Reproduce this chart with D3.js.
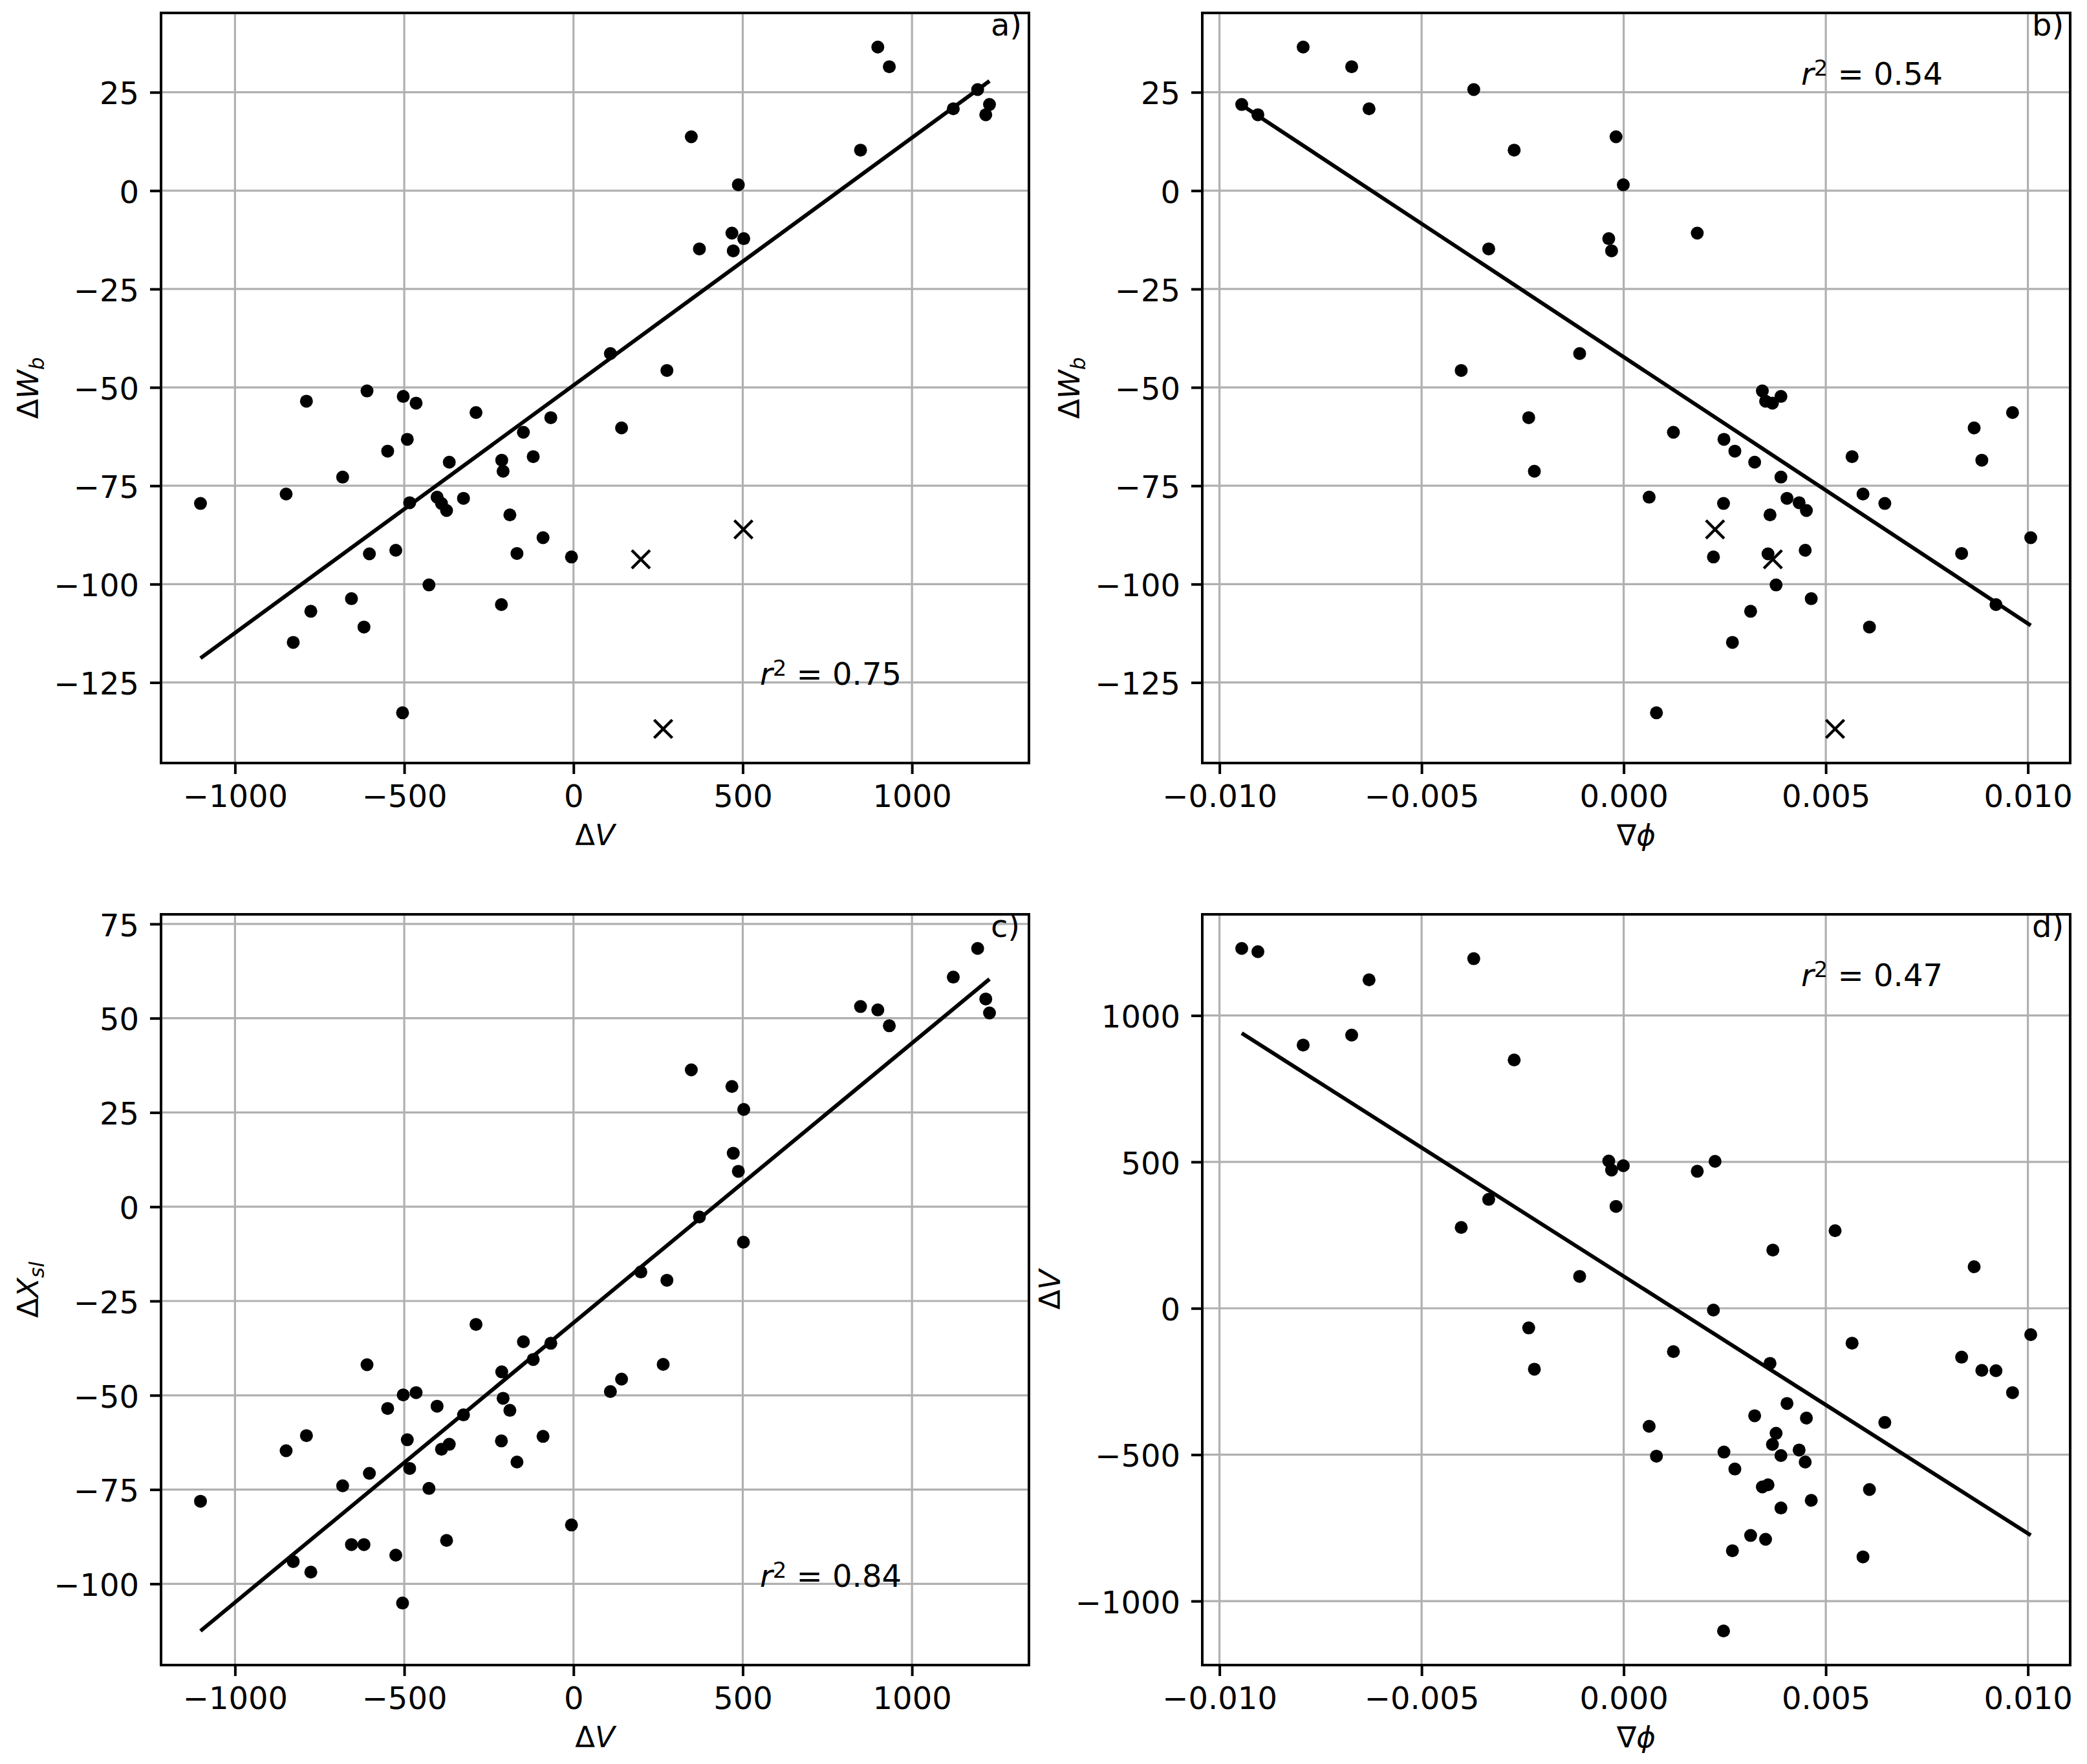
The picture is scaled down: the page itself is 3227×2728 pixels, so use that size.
<!DOCTYPE html>
<html>
<head>
<meta charset="utf-8">
<script src="https://cdn.jsdelivr.net/npm/d3@7"></script>
<style>
  html, body { margin: 0; padding: 0; background: #fff; }
  svg text { font-family: "DejaVu Sans", sans-serif; fill: #000; }
</style>
</head>
<body>
<svg id="fig" width="3227" height="2728"></svg>
<script>
// -------- Data (one entry per event, same order in every array) --------
const dV = [-1102, -849, -789, -828, -776, -682, -656, -619, -610, -603, -549, -525, -505, -503, -491, -484, -465, -427, -403, -390,
  -375, -367, -325, -288, -213, -212, -208, -188, -167, -148, -119, -90, -67, -6, 109, 142, 276, 348, 372, 468,
  472, 487, 503, 848, 899, 933, 1122, 1194, 1229, 1218];
const dWb = [-79.5, -77.1, -53.5, -114.8, -106.9, -72.8, -103.7, -110.9, -50.9, -92.3, -66.2, -91.4, -132.7, -52.3, -63.2, -79.3, -54.0, -100.2, -77.9, -79.5,
  -81.3, -69.0, -78.2, -56.4, -105.2, -68.5, -71.3, -82.4, -92.2, -61.4, -67.6, -88.2, -57.7, -93.1, -41.4, -60.3, -45.7, 13.7, -14.8, -10.8,
  -15.3, 1.5, -12.2, 10.3, 36.5, 31.5, 20.8, 25.7, 21.9, 19.3];
const gradPhi = [0.00247, 0.00592, 0.00351, 0.00269, 0.00314, 0.00389, 0.00464, 0.00608, 0.00343, 0.00357, 0.00275, 0.00449, 0.00081, 0.00389, 0.00248, 0.00434, 0.00368, 0.00377, 0.00063, 0.00646,
  0.00452, 0.00324, 0.00404, 0.00962, 0.00921, 0.00886, -0.00221, 0.00362, 0.00836, 0.00123, 0.00565, 0.01007, -0.00235, 0.00222, -0.00109, 0.00867, -0.00402, -0.00019, -0.00334, 0.00182,
  -0.00030, -0.00001, -0.00037, -0.00271, -0.00793, -0.00673, -0.00630, -0.00371, -0.00945, -0.00905];
const dXsl = [-78.1, -64.7, -60.7, -94.1, -96.9, -74.0, -89.6, -89.6, -41.9, -70.7, -53.5, -92.4, -105.1, -49.9, -61.8, -69.4, -49.3, -74.7, -52.9, -64.3,
  -88.5, -63.0, -55.2, -31.2, -62.1, -43.8, -50.8, -54.0, -67.7, -35.8, -40.5, -60.9, -36.2, -84.4, -49.0, -45.7, -19.5, 36.3, -2.7, 31.9,
  14.2, 9.4, 25.8, 53.1, 52.2, 48.0, 60.9, 68.5, 51.4, 55.1];

// events left out of the W_b fits (crosses in a and b)
const outDV = [199, 502, 265];
const outDWb = [-93.7, -86.1, -136.8];
const outPhi = [0.00369, 0.00226, 0.00523];
const outDXsl = [-17.3, -9.4, -41.8];

// ticks and annotations
const dvTicks = [-1000, -500, 0, 500, 1000];
const phiTicks = [-0.01, -0.005, 0, 0.005, 0.01];
const wbTicks = [-125, -100, -75, -50, -25, 0, 25];
const xslTicks = [-100, -75, -50, -25, 0, 25, 50, 75];
const r2Labels = ["0.75", "0.54", "0.84", "0.47"];
const panelTags = ["a)", "b)", "c)", "d)"];

// -------- Figure setup --------
const svg = d3.select("#fig");
svg.append("rect").attr("width", 3227).attr("height", 2728).attr("fill", "#fff");

const TICK_FONT = 48;
const LABEL_FONT = 45;
const TICK_LEN = 17;

// matplotlib-style autoscale: 5% margin on each side
function pad(ext) {
  const r = ext[1] - ext[0];
  return [ext[0] - 0.05 * r, ext[1] + 0.05 * r];
}

// ordinary least squares y = a + b x
function fit(xs, ys) {
  const mx = d3.mean(xs), my = d3.mean(ys);
  let sxy = 0, sxx = 0;
  xs.forEach((x, i) => { sxy += (x - mx) * (ys[i] - my); sxx += (x - mx) * (x - mx); });
  const b = sxy / sxx;
  return { a: my - b * mx, b };
}

// label pieces: [text, italic, subscript]
const labDV = [["Δ", false, false], ["V", true, false]];
const labPhi = [["∇", false, false], ["ϕ", true, false]];
const labWb = [["Δ", false, false], ["W", true, false], ["b", true, true]];
const labXsl = [["Δ", false, false], ["X", true, false], ["sl", true, true]];

function mathText(sel, parts) {
  let sub = false;
  parts.forEach(([t, it, s]) => {
    const ts = sel.append("tspan").text(t)
      .attr("font-style", it ? "italic" : "normal");
    if (s && !sub) { ts.attr("font-size", LABEL_FONT * 0.7).attr("dy", 9); sub = true; }
  });
}

function panel(opt) {
  const { left, top, width, height } = opt.box;

  const f = fit(opt.fitX, opt.fitY);
  const lineX = d3.extent(opt.fitX);
  const lineData = lineX.map(v => [v, f.a + f.b * v]);

  const allX = opt.x.concat(opt.cx || [], lineX);
  const allY = opt.y.concat(opt.cy || [], lineData.map(d => d[1]));

  const x = d3.scaleLinear().domain(pad(d3.extent(allX))).range([0, width]);
  const y = d3.scaleLinear().domain(pad(d3.extent(allY))).range([height, 0]);

  const g = svg.append("g").attr("transform", `translate(${left},${top})`);

  // Grid
  g.append("g").selectAll("line").data(opt.xTicks).join("line")
    .attr("x1", d => x(d)).attr("x2", d => x(d))
    .attr("y1", 0).attr("y2", height)
    .attr("stroke", "#b0b0b0").attr("stroke-width", 3.2);
  g.append("g").selectAll("line").data(opt.yTicks).join("line")
    .attr("y1", d => y(d)).attr("y2", d => y(d))
    .attr("x1", 0).attr("x2", width)
    .attr("stroke", "#b0b0b0").attr("stroke-width", 3.2);

  // Fit line
  g.append("path")
    .attr("d", d3.line().x(d => x(d[0])).y(d => y(d[1]))(lineData))
    .attr("fill", "none").attr("stroke", "#000").attr("stroke-width", 6);

  // Dots
  g.append("g").selectAll("circle").data(opt.x.map((v, i) => [v, opt.y[i]])).join("circle")
    .attr("cx", d => x(d[0])).attr("cy", d => y(d[1])).attr("r", 10).attr("fill", "#000");

  // Crosses
  if (opt.cx) {
    g.append("g").selectAll("path").data(opt.cx.map((v, i) => [v, opt.cy[i]])).join("path")
      .attr("transform", d => `translate(${x(d[0])},${y(d[1])})`)
      .attr("d", "M-14,-14L14,14M-14,14L14,-14")
      .attr("stroke", "#000").attr("stroke-width", 4.5).attr("fill", "none");
  }

  // Frame
  g.append("rect").attr("width", width).attr("height", height)
    .attr("fill", "none").attr("stroke", "#000").attr("stroke-width", 4);

  // Axes
  const xa = g.append("g").attr("transform", `translate(0,${height})`)
    .call(d3.axisBottom(x).tickValues(opt.xTicks).tickFormat(opt.xFmt)
      .tickSize(TICK_LEN).tickPadding(17));
  const ya = g.append("g")
    .call(d3.axisLeft(y).tickValues(opt.yTicks).tickFormat(opt.yFmt)
      .tickSize(TICK_LEN).tickPadding(17));
  [xa, ya].forEach(a => {
    a.select(".domain").remove();
    a.selectAll(".tick line").attr("stroke", "#000").attr("stroke-width", 4);
    a.selectAll(".tick text").attr("font-size", TICK_FONT)
      .attr("font-family", "DejaVu Sans").attr("fill", "#000");
  });
  ya.selectAll(".tick text").attr("dy", "0.38em");

  // Axis labels
  const xl = g.append("text").attr("x", width / 2).attr("y", height + 127)
    .attr("text-anchor", "middle").attr("font-size", LABEL_FONT);
  mathText(xl, opt.xLabel);

  let minX = 0;
  ya.selectAll(".tick text").each(function () {
    const b = this.getBBox();
    minX = Math.min(minX, b.x);
  });
  const yl = g.append("text")
    .attr("transform", `translate(${minX - 24},${height / 2}) rotate(-90)`)
    .attr("text-anchor", "middle").attr("font-size", LABEL_FONT);
  mathText(yl, opt.yLabel);

  // r^2 annotation
  const rt = g.append("text").attr("x", 0.69 * width)
    .attr("y", height * (1 - opt.r2Frac)).attr("font-size", TICK_FONT);
  rt.append("tspan").attr("font-style", "italic").text("r");
  rt.append("tspan").attr("font-size", 34).attr("dy", -14).text("2");
  rt.append("tspan").attr("dy", 14).text(" = " + opt.r2);

  // panel tag
  g.append("text").attr("x", 0.956 * width).attr("y", 0.03 * height)
    .attr("font-size", TICK_FONT).text(opt.tag);
}

const fmtDV = d3.format("d");
const fmtPhi = d3.format(".3f");

panel({
  box: { left: 249, top: 20, width: 1342, height: 1160 },
  x: dV, y: dWb, cx: outDV, cy: outDWb, fitX: dV, fitY: dWb,
  xTicks: dvTicks, yTicks: wbTicks, xFmt: fmtDV, yFmt: fmtDV,
  xLabel: labDV, yLabel: labWb, r2: r2Labels[0], r2Frac: 0.104, tag: panelTags[0]
});

panel({
  box: { left: 1859, top: 20, width: 1342, height: 1160 },
  x: gradPhi, y: dWb, cx: outPhi, cy: outDWb, fitX: gradPhi, fitY: dWb,
  xTicks: phiTicks, yTicks: wbTicks, xFmt: fmtPhi, yFmt: fmtDV,
  xLabel: labPhi, yLabel: labWb, r2: r2Labels[1], r2Frac: 0.904, tag: panelTags[1]
});

const allDV = dV.concat(outDV);
const allPhi = gradPhi.concat(outPhi);
const allXsl = dXsl.concat(outDXsl);

panel({
  box: { left: 249, top: 1414, width: 1342, height: 1161 },
  x: allDV, y: allXsl, fitX: allDV, fitY: allXsl,
  xTicks: dvTicks, yTicks: xslTicks, xFmt: fmtDV, yFmt: fmtDV,
  xLabel: labDV, yLabel: labXsl, r2: r2Labels[2], r2Frac: 0.104, tag: panelTags[2]
});

panel({
  box: { left: 1859, top: 1414, width: 1342, height: 1161 },
  x: allPhi, y: allDV, fitX: allPhi, fitY: allDV,
  xTicks: phiTicks, yTicks: dvTicks, xFmt: fmtPhi, yFmt: fmtDV,
  xLabel: labPhi, yLabel: labDV, r2: r2Labels[3], r2Frac: 0.904, tag: panelTags[3]
});
</script>
</body>
</html>
